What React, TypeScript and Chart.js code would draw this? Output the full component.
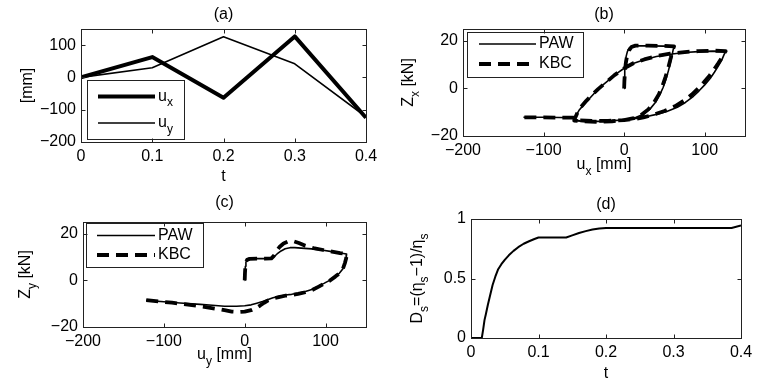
import React, { useEffect, useRef } from "react";
import { Chart, registerables } from "chart.js";
Chart.register(...registerables);

const FONT = '"Liberation Sans", Arial, Helvetica, sans-serif';
const FS = 16;
const SUBFS = 12;

// ---------- (a) displacement histories ----------
const tA = [0, 0.1, 0.2, 0.3, 0.4];
const uxA = [0, 63, -63, 127, -125];
const uyA = [0, 30, 126, 42, -122];
const aXTicks = [0, 0.1, 0.2, 0.3, 0.4];
const aYTicks = [-200, -100, 0, 100];

// ---------- (b) Zx vs ux ----------
const bPawU = [
  0, 0.5, 1, 1.5, 2.5, 4, 6, 9, 14, 30, 50, 62,
  61, 59.5, 57.5, 55, 52, 48.5, 44.5, 39, 32, 24, 15, 5, -10, -30, -50, -62,
  -61, -59, -56, -50, -43, -35, -27, -18, -9, 0, 12, 24, 40, 57, 75, 92, 110, 126,
  124, 121, 117, 112, 107, 100, 93, 86, 76, 66, 53, 40, 27, 15, 0, -20, -40, -55, -62, -63, -80, -100, -125,
];
const bPawZ = [
  0, 4, 8, 11, 13.5, 15.5, 16.8, 17.6, 17.9, 17.9, 17.8, 17.6,
  16.5, 14, 11, 7.5, 4, 0.5, -2.5, -5.8, -8.7, -10.8, -12.1, -12.9, -13.5, -13.9, -13.9, -13.6,
  -12.8, -11, -9.2, -6.8, -4.2, -1.3, 1.3, 3.8, 6.3, 8.5, 10.6, 12, 13.4, 14.4, 15.1, 15.5, 15.7, 15.6,
  14.2, 11.8, 9.5, 6.8, 4.3, 1.5, -1, -3.3, -5.9, -7.9, -9.7, -10.9, -11.9, -12.6, -13.2, -13.7, -13.8, -13.6, -13.2, -12.3, -12.2, -12.1, -12.1,
];
const bKbcU = [
  0, 0.3, 1, 2, 3.5, 6, 9, 14, 30, 50, 62,
  60, 58, 55, 51.5, 47.5, 43, 37, 30, 22, 12, 0, -15, -35, -55, -62,
  -61, -58, -54, -47, -40, -32, -22, -12, 0, 12, 25, 40, 57, 75, 92, 110, 126,
  124, 121, 117, 112, 106, 99, 92, 84, 74, 63, 50, 37, 24, 12, 0, -20, -40, -55, -62, -63, -80, -100, -125,
];
const bKbcZ = [
  0, 3, 7, 10.5, 13.5, 16, 17.4, 18, 18, 17.9, 17.7,
  16, 13, 9, 5, 1, -2.5, -6, -8.8, -11, -12.5, -13.3, -13.8, -14, -13.8, -13.5,
  -12.5, -10.2, -8, -5.2, -2.8, -0.2, 2.7, 5.6, 8.5, 10.7, 12.2, 13.6, 14.6, 15.3, 15.7, 15.9, 15.7,
  14.8, 12.8, 10.7, 8.2, 5.4, 2.6, 0, -2.6, -5.2, -7.5, -9.5, -11, -12.2, -12.9, -13.3, -13.6, -13.6, -13.4, -13, -12.3, -12.3, -12.2, -12.2,
];
const bXTicks = [-200, -100, 0, 100];
const bYTicks = [-20, 0, 20];

// ---------- (c) Zy vs uy ----------
const cPawU = [
  0, 0.3, 0.8, 1.5, 3, 6, 15, 25, 33, 36, 40, 45, 50, 56, 62, 70, 83, 95, 108, 118, 126,
  125.5, 124, 121.5, 117, 112, 105, 98, 91, 83, 75, 66, 58, 50, 42, 35, 29, 22, 15, 8, 0, -10, -25, -40, -55, -80, -100, -122,
];
const cPawZ = [
  0, 3, 6, 7.8, 8.8, 9.2, 9.3, 9.3, 9.4, 10, 11.3, 12.6, 13.5, 14, 14, 13.8, 13.5, 13, 12.3, 11.7, 11.3,
  9.5, 7.5, 5, 3, 1.8, 0, -1.3, -2.5, -3.9, -4.8, -5.5, -6, -6.3, -6.9, -7.5, -8.2, -9.1, -9.8, -10.5, -10.9, -11.1, -11.1, -10.7, -10.3, -9.7, -9.2, -8.6,
];
const cKbcU = [
  0, 0.3, 0.8, 1.5, 3, 6, 15, 25, 33, 36, 39, 43, 48, 54, 60, 67, 75, 85, 97, 108, 118, 126,
  125.5, 124, 121.5, 117, 112, 105, 98, 91, 83, 75, 66, 58, 50, 42, 35, 29, 24, 19, 14, 8, 0, -8, -16, -25, -35, -50, -70, -90, -110, -122,
];
const cKbcZ = [
  0, 3, 6, 7.8, 8.8, 9.2, 9.3, 9.3, 9.4, 10.5, 12.3, 14.3, 15.8, 16.7, 16.8, 16, 14.8, 13.8, 13, 12.3, 11.7, 11.3,
  9.5, 7.5, 5, 3, 1.6, -0.2, -1.5, -2.8, -4.2, -5.1, -5.8, -6.3, -6.6, -7.2, -7.8, -8.6, -9.6, -10.8, -11.9, -12.8, -13.4, -13.6, -13.4, -12.8, -12.2, -11.4, -10.4, -9.6, -8.9, -8.5,
];
const cXTicks = [-200, -100, 0, 100];
const cYTicks = [-20, 0, 20];

// ---------- (d) damage ----------
const dT = [0, 0.016, 0.018, 0.02, 0.022, 0.025, 0.028, 0.032, 0.036, 0.04, 0.045, 0.05, 0.056, 0.063, 0.07, 0.078, 0.086, 0.094, 0.1, 0.141, 0.15, 0.16, 0.17, 0.18, 0.19, 0.2, 0.386, 0.4];
const dD = [0, 0, 0.07, 0.15, 0.2, 0.28, 0.35, 0.445, 0.515, 0.575, 0.62, 0.657, 0.695, 0.732, 0.763, 0.792, 0.813, 0.832, 0.845, 0.845, 0.862, 0.882, 0.898, 0.912, 0.921, 0.925, 0.925, 0.945];
const dXTicks = [0, 0.1, 0.2, 0.3, 0.4];
const dYTicks = [0, 0.5, 1];

type Part = { t: string; sub?: boolean };
const pts = (xs: number[], ys: number[]) => xs.map((x, i) => ({ x, y: ys[i] }));

function partsWidth(ctx: CanvasRenderingContext2D, parts: Part[]) {
  let w = 0;
  for (const p of parts) {
    ctx.font = `${p.sub ? SUBFS : FS}px ${FONT}`;
    w += ctx.measureText(p.t).width;
  }
  return w;
}
function drawParts(ctx: CanvasRenderingContext2D, parts: Part[], x: number, y: number, align: "center" | "left") {
  const w = partsWidth(ctx, parts);
  let cx = align === "center" ? x - w / 2 : x;
  ctx.textAlign = "left";
  ctx.textBaseline = "middle";
  ctx.fillStyle = "#000";
  for (const p of parts) {
    ctx.font = `${p.sub ? SUBFS : FS}px ${FONT}`;
    ctx.fillText(p.t, cx, p.sub ? y + 6.5 : y);
    cx += ctx.measureText(p.t).width;
  }
}

type Panel = {
  id: string;
  box: [number, number, number, number];
  xr: [number, number];
  yr: [number, number];
  xTicks: number[];
  yTicks: number[];
  datasets: any[];
  title: string;
  titleY: number;
  xLabel: Part[];
  xLabelY: number;
  yLabel: Part[];
  yLabelX: number;
  legend?: { box: [number, number, number, number]; x0: number; x1: number; ys: number[]; labels: Part[][]; tx: number };
};

const fmt = (v: number) => String(+v.toFixed(2)).replace("-", "\u2212");

const panels: Panel[] = [
  {
    id: "a",
    box: [81, 29, 366, 142],
    xr: [0, 0.4],
    yr: [-200, 150],
    xTicks: aXTicks,
    yTicks: aYTicks,
    datasets: [
      { label: "ux", data: pts(tA, uxA), borderWidth: 4 },
      { label: "uy", data: pts(tA, uyA), borderWidth: 1.6 },
    ],
    title: "(a)",
    titleY: 15,
    xLabel: [{ t: "t" }],
    xLabelY: 177,
    yLabel: [{ t: "[mm]" }],
    yLabelX: 28,
    legend: {
      box: [87, 80, 184, 139],
      x0: 98,
      x1: 155,
      ys: [96.5, 123],
      labels: [[{ t: "u" }, { t: "x", sub: true }], [{ t: "u" }, { t: "y", sub: true }]],
      tx: 158,
    },
  },
  {
    id: "b",
    box: [463, 29, 745, 136],
    xr: [-200, 150],
    yr: [-20, 25],
    xTicks: bXTicks,
    yTicks: bYTicks,
    datasets: [
      { label: "PAW", data: pts(bPawU, bPawZ), borderWidth: 1.6 },
      { label: "KBC", data: pts(bKbcU, bKbcZ), borderWidth: 3.8, borderDash: [12, 7] },
    ],
    title: "(b)",
    titleY: 15,
    xLabel: [{ t: "u" }, { t: "x", sub: true }, { t: " [mm]" }],
    xLabelY: 165,
    yLabel: [{ t: "Z" }, { t: "x", sub: true }, { t: " [kN]" }],
    yLabelX: 409,
    legend: {
      box: [467, 32, 583, 77],
      x0: 479,
      x1: 536,
      ys: [44, 64],
      labels: [[{ t: "PAW" }], [{ t: "KBC" }]],
      tx: 539,
    },
  },
  {
    id: "c",
    box: [83, 222, 366, 327],
    xr: [-200, 150],
    yr: [-20, 25],
    xTicks: cXTicks,
    yTicks: cYTicks,
    datasets: [
      { label: "PAW", data: pts(cPawU, cPawZ), borderWidth: 1.6 },
      { label: "KBC", data: pts(cKbcU, cKbcZ), borderWidth: 3.8, borderDash: [12, 7] },
    ],
    title: "(c)",
    titleY: 203,
    xLabel: [{ t: "u" }, { t: "y", sub: true }, { t: " [mm]" }],
    xLabelY: 355,
    yLabel: [{ t: "Z" }, { t: "y", sub: true }, { t: " [kN]" }],
    yLabelX: 26,
    legend: {
      box: [86, 223, 203, 267],
      x0: 97,
      x1: 155,
      ys: [235.5, 255],
      labels: [[{ t: "PAW" }], [{ t: "KBC" }]],
      tx: 158,
    },
  },
  {
    id: "d",
    box: [471, 219, 741, 338],
    xr: [0, 0.4],
    yr: [0, 1],
    xTicks: dXTicks,
    yTicks: dYTicks,
    datasets: [{ label: "Ds", data: pts(dT, dD), borderWidth: 2 }],
    title: "(d)",
    titleY: 205,
    xLabel: [{ t: "t" }],
    xLabelY: 374,
    yLabel: [
      { t: "D" }, { t: "s", sub: true }, { t: "=(\u03b7" }, { t: "s", sub: true }, { t: "\u22121)/\u03b7" }, { t: "s", sub: true },
    ],
    yLabelX: 418,
  },
];

const YW = 60;
const XH = 30;

function makeDecor(p: Panel) {
  return {
    id: "decor" + p.id,
    afterDatasetsDraw(chart: any) {
      const { ctx, chartArea: ca, scales } = chart;
      ctx.save();
      // legend
      if (p.legend) {
        const L = p.legend;
        const [l, t, r, b] = L.box;
        ctx.fillStyle = "#fff";
        ctx.fillRect(l, t, r - l, b - t);
        ctx.strokeStyle = "#222";
        ctx.lineWidth = 1;
        ctx.setLineDash([]);
        ctx.strokeRect(Math.round(l) + 0.5, Math.round(t) + 0.5, r - l, b - t);
        p.datasets.forEach((ds: any, i: number) => {
          ctx.beginPath();
          ctx.strokeStyle = "#000";
          ctx.lineWidth = ds.borderWidth;
          ctx.setLineDash(ds.borderDash || []);
          ctx.moveTo(L.x0, L.ys[i]);
          ctx.lineTo(L.x1, L.ys[i]);
          ctx.stroke();
          ctx.setLineDash([]);
          drawParts(ctx, L.labels[i], L.tx, L.ys[i], "left");
        });
      }
      // frame
      ctx.setLineDash([]);
      ctx.strokeStyle = "#222";
      ctx.lineWidth = 1;
      const L0 = Math.round(ca.left) + 0.5, R0 = Math.round(ca.right) + 0.5;
      const T0 = Math.round(ca.top) + 0.5, B0 = Math.round(ca.bottom) + 0.5;
      ctx.strokeRect(L0, T0, R0 - L0, B0 - T0);
      ctx.beginPath();
      for (const v of p.xTicks) {
        const x = Math.round(scales.x.getPixelForValue(v)) + 0.5;
        ctx.moveTo(x, B0); ctx.lineTo(x, B0 - 4);
        ctx.moveTo(x, T0); ctx.lineTo(x, T0 + 4);
      }
      for (const v of p.yTicks) {
        const y = Math.round(scales.y.getPixelForValue(v)) + 0.5;
        ctx.moveTo(L0, y); ctx.lineTo(L0 + 4, y);
        ctx.moveTo(R0, y); ctx.lineTo(R0 - 4, y);
      }
      ctx.stroke();
      // texts
      const cx = (ca.left + ca.right) / 2;
      const cy = (ca.top + ca.bottom) / 2;
      drawParts(ctx, [{ t: p.title }], cx, p.titleY, "center");
      drawParts(ctx, p.xLabel, cx, p.xLabelY, "center");
      ctx.save();
      ctx.translate(p.yLabelX, cy);
      ctx.rotate(-Math.PI / 2);
      drawParts(ctx, p.yLabel, 0, 0, "center");
      ctx.restore();
      ctx.restore();
    },
  };
}

function buildConfig(p: Panel): any {
  const [l, t, r, b] = p.box;
  const tickFont = { family: FONT, size: FS };
  return {
    type: "scatter",
    data: {
      datasets: p.datasets.map((d) => ({
        ...d,
        showLine: true,
        pointRadius: 0,
        borderColor: "#000",
        backgroundColor: "#000",
        fill: false,
        tension: 0,
        borderJoinStyle: "round",
      })),
    },
    options: {
      responsive: false,
      animation: false,
      events: [],
      layout: { padding: { left: l - YW, top: t, right: 763 - r, bottom: 383 - b - XH } },
      plugins: { legend: { display: false }, tooltip: { enabled: false }, title: { display: false } },
      scales: {
        x: {
          type: "linear",
          position: "bottom",
          min: p.xr[0],
          max: p.xr[1],
          grid: { display: false, drawTicks: false },
          border: { display: false },
          ticks: { font: tickFont, color: "#000", padding: 5, maxRotation: 0, autoSkip: false, callback: (v: number) => fmt(v) },
          afterBuildTicks: (s: any) => { s.ticks = p.xTicks.map((v) => ({ value: v })); },
          afterFit: (s: any) => { s.height = XH; },
        },
        y: {
          type: "linear",
          position: "left",
          min: p.yr[0],
          max: p.yr[1],
          grid: { display: false, drawTicks: false },
          border: { display: false },
          ticks: { font: tickFont, color: "#000", padding: 5, autoSkip: false, callback: (v: number) => fmt(v) },
          afterBuildTicks: (s: any) => { s.ticks = p.yTicks.map((v) => ({ value: v })); },
          afterFit: (s: any) => { s.width = YW; },
        },
      },
    },
    plugins: [makeDecor(p)],
  };
}

function PanelChart({ panel }: { panel: Panel }) {
  const ref = useRef<HTMLCanvasElement>(null);
  useEffect(() => {
    const chart = new Chart(ref.current!, buildConfig(panel));
    return () => chart.destroy();
  }, [panel]);
  return (
    <canvas
      ref={ref}
      width={763}
      height={383}
      style={{ position: "absolute", left: 0, top: 0, width: 763, height: 383 }}
    />
  );
}

export default function App() {
  return (
    <div style={{ position: "fixed", left: 0, top: 0, width: 763, height: 383, background: "#fff", overflow: "hidden" }}>
      {panels.map((p) => (
        <PanelChart key={p.id} panel={p} />
      ))}
    </div>
  );
}
